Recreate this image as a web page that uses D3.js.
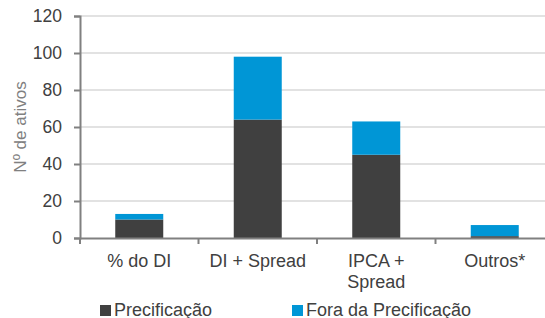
<!DOCTYPE html>
<html lang="pt">
<head>
<meta charset="UTF-8">
<title>Nº de ativos</title>
<script src="https://d3js.org/d3.v7.min.js"></script>
<style>
  body { margin: 0; background: #fff; }
  text { font-family: "Liberation Sans", Arial, sans-serif; }
</style>
</head>
<body>
<svg id="chart" width="545" height="318"></svg>
<script>
// data
const categories = ["% do DI", "DI + Spread", "IPCA + Spread", "Outros*"];
const labelLines = [["% do DI"], ["DI + Spread"], ["IPCA +", "Spread"], ["Outros*"]];
const precificacao = [10, 64, 45, 1];
const foraPrecificacao = [3, 34, 18, 6];
const seriesNames = ["Precificação", "Fora da Precificação"];
const colors = ["#404040", "#0096d6"];
const yTicks = [0, 20, 40, 60, 80, 100, 120];

const svg = d3.select("#chart");
const plotL = 80, plotR = 554, plotT = 16, plotB = 238;

const x = d3.scaleBand().domain(categories).range([plotL, plotR]).paddingInner(0).paddingOuter(0);
const y = d3.scaleLinear().domain([0, 120]).range([plotB, plotT]);
const barW = 48;

// gridlines
svg.append("g")
  .selectAll("line")
  .data(yTicks.filter(d => d > 0))
  .join("line")
  .attr("x1", plotL).attr("x2", 545)
  .attr("y1", d => y(d)).attr("y2", d => y(d))
  .attr("stroke", "#d9d9d9").attr("stroke-width", 1.5);

// stacked bars
const rows = categories.map((c, i) => ({ cat: c, p: precificacao[i], f: foraPrecificacao[i] }));
const stack = d3.stack().keys(["p", "f"])(rows);

svg.append("g")
  .selectAll("g")
  .data(stack)
  .join("g")
  .attr("fill", (d, i) => colors[i])
  .selectAll("rect")
  .data(d => d)
  .join("rect")
  .attr("x", d => x(d.data.cat) + (x.bandwidth() - barW) / 2)
  .attr("width", barW)
  .attr("y", d => y(d[1]))
  .attr("height", d => y(d[0]) - y(d[1]));

// y axis
const yAxis = svg.append("g")
  .attr("transform", `translate(${plotL},0)`)
  .call(d3.axisLeft(y).tickValues(yTicks).tickSize(6).tickPadding(12));
yAxis.select(".domain").attr("stroke", "#808080").attr("stroke-width", 2);
yAxis.selectAll(".tick line").attr("stroke", "#808080").attr("stroke-width", 2);
yAxis.selectAll(".tick text")
  .attr("fill", "#404040")
  .style("font-size", "17.5px")
  .style("font-family", "Liberation Sans, Arial, sans-serif");

// x axis
const xAxis = svg.append("g")
  .attr("transform", `translate(0,${plotB})`)
  .call(d3.axisBottom(x).tickSize(0).tickFormat(""));
xAxis.select(".domain").attr("stroke", "#808080").attr("stroke-width", 2);

// x tick marks at band boundaries
svg.append("g")
  .selectAll("line")
  .data(categories)
  .join("line")
  .attr("x1", d => x(d)).attr("x2", d => x(d))
  .attr("y1", plotB).attr("y2", plotB + 6)
  .attr("stroke", "#808080").attr("stroke-width", 2);

// x labels
const xl = svg.append("g")
  .selectAll("text")
  .data(categories)
  .join("text")
  .attr("x", d => x(d) + x.bandwidth() / 2)
  .attr("y", 267)
  .attr("text-anchor", "middle")
  .attr("fill", "#404040")
  .style("font-size", "18px");
xl.selectAll("tspan")
  .data((d, i) => labelLines[i])
  .join("tspan")
  .attr("x", function () { return this.parentNode.getAttribute("x"); })
  .attr("dy", (d, i) => i === 0 ? 0 : 20.5)
  .text(d => d);

// y axis title
svg.append("text")
  .attr("transform", `translate(26,${(plotT + plotB) / 2}) rotate(-90)`)
  .attr("text-anchor", "middle")
  .attr("fill", "#808080")
  .style("font-size", "17px")
  .text("Nº de ativos");

// legend
const legendX = [100, 292];
const lg = svg.append("g")
  .selectAll("g")
  .data(seriesNames)
  .join("g")
  .attr("transform", (d, i) => `translate(${legendX[i]},305)`);
lg.append("rect")
  .attr("width", 11).attr("height", 11)
  .attr("fill", (d, i) => colors[i]);
lg.append("text")
  .attr("x", 14).attr("y", 11)
  .attr("fill", "#404040")
  .style("font-size", "18px")
  .text(d => d);
</script>
</body>
</html>
